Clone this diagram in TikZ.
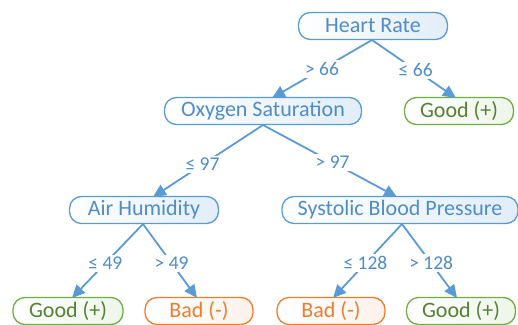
\documentclass[tikz,border=0pt]{standalone}
\usepackage{fontspec}
\setmainfont{Carlito}
\usetikzlibrary{arrows.meta}
\definecolor{bl}{HTML}{5B9BD5}
\definecolor{bltext}{HTML}{4F8CC9}
\definecolor{gr}{HTML}{70AD47}
\definecolor{grtext}{HTML}{548235}
\definecolor{orn}{HTML}{ED7D31}
\tikzset{
  box/.style={draw=bl, line width=1.3pt, rounded corners=12pt, minimum height=27pt,
    inner sep=0pt, text=bltext, font=\fontsize{22}{22}\selectfont,
    left color=white, right color=bl!18},
  goodbox/.style={box, draw=gr, text=grtext, right color=gr!12},
  badbox/.style={box, draw=orn, text=orn, right color=orn!10},
  edge/.style={draw=bl, line width=1.8pt, -{Triangle[length=13pt,width=12pt]}},
  lbl/.style={fill=white, text=bltext, font=\fontsize{19.5}{19.5}\selectfont, inner sep=2pt}
}
\begin{document}
\begin{tikzpicture}[x=1pt,y=-1pt]
\useasboundingbox (0,0) rectangle (518,324);
\begin{scope}
\clip (0,0) rectangle (518,324);
\node[box, minimum width=149pt] (hr) at (373,26) {Heart Rate};
\node[goodbox, minimum width=109pt] (g1) at (459,111) {Good (+)};
\node[box, minimum width=197pt] (ox) at (263,111) {Oxygen Saturation};
\node[box, minimum width=149pt] (ah) at (144,210) {Air Humidity};
\node[box, minimum width=236pt] (sb) at (400,210) {Systolic Blood Pressure};
\node[goodbox, minimum width=110pt] (g2) at (68,311) {Good (+)};
\node[badbox, minimum width=108pt] (b1) at (199,311) {Bad (-)};
\node[badbox, minimum width=108pt] (b2) at (331,311) {Bad (-)};
\node[goodbox, minimum width=109pt] (g3) at (461,311) {Good (+)};

\coordinate (hrA) at (372,40);
\coordinate (oxT) at (272,98);
\coordinate (g1T) at (456,98);
\coordinate (oxB) at (263,125);
\coordinate (ahT) at (153,197);
\coordinate (sbT) at (397,197);
\coordinate (ahB) at (143,224);
\coordinate (sbB) at (402,224);
\coordinate (g2T) at (72,298);
\coordinate (b1T) at (197,298);
\coordinate (b2T) at (333,298);
\coordinate (g3T) at (457,298);

\draw[edge] (hrA) -- node[lbl, pos=0.5] {> 66} (oxT);
\draw[edge] (hrA) -- node[lbl, pos=0.52] {≤ 66} (g1T);
\draw[edge] (oxB) -- node[lbl, pos=0.55] {≤ 97} (ahT);
\draw[edge] (oxB) -- node[lbl, pos=0.52] {> 97} (sbT);
\draw[edge] (ahB) -- node[lbl, pos=0.53] {≤ 49} (g2T);
\draw[edge] (ahB) -- node[lbl, pos=0.53] {> 49} (b1T);
\draw[edge] (sbB) -- node[lbl, pos=0.53] {≤ 128} (b2T);
\draw[edge] (sbB) -- node[lbl, pos=0.53] {> 128} (g3T);
\end{scope}
\end{tikzpicture}
\end{document}
